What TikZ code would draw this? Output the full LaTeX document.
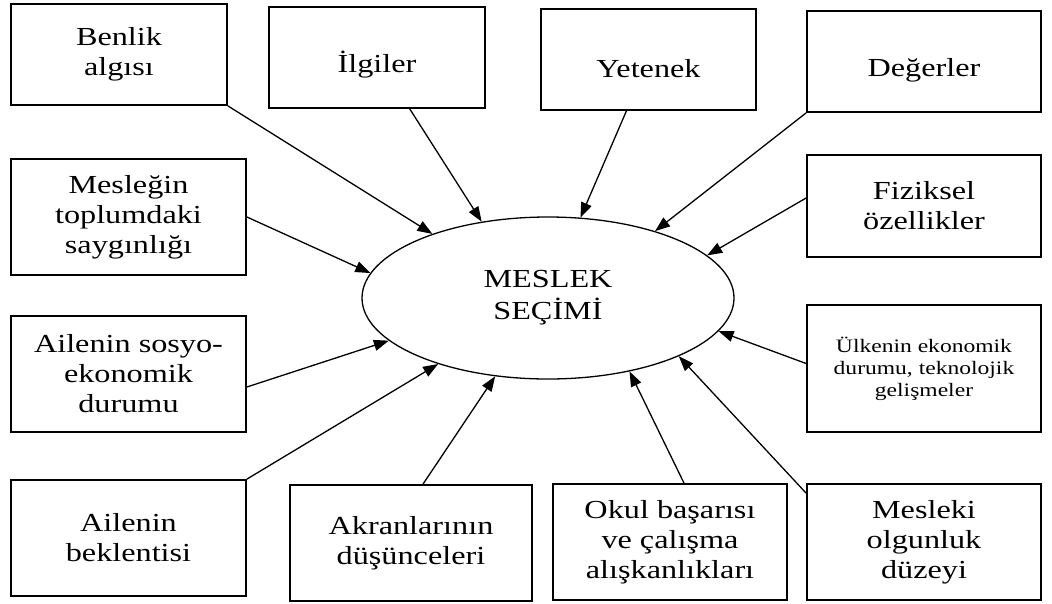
\documentclass[tikz,border=0pt]{standalone}
\usepackage{fontspec}
\setmainfont{Liberation Serif}[FakeStretch=1.24]
\usepackage{tikz}
\usetikzlibrary{shapes.geometric,arrows.meta,positioning}

\begin{document}
\begin{tikzpicture}[x=1pt, y=-1pt, >={Triangle[length=15pt,width=11pt]},
  factor/.style={draw,rectangle,line width=1.8pt,align=center,inner sep=2pt,
    font=\fontsize{26}{30}\selectfont},
  topfactor/.style={factor,minimum height=101pt,execute at begin node=\rule{0pt}{36pt}},
  link/.style={->,line width=1.3pt}]
  \useasboundingbox (0,0) rectangle (1052,603);
  % Choice in the middle
  \node[draw,ellipse,line width=1.3pt,minimum width=372pt,minimum height=162pt,inner sep=0pt,
    align=center,font=\fontsize{26}{32}\selectfont] (secim) at (548,298) {MESLEK\\SEÇİMİ};
  % Factors, top row
  \node[topfactor,minimum width=216pt] (benlik) at (119,54.5) {Benlik\\algısı};
  \node[topfactor,minimum width=216pt] (ilgi) at (377,57.5) {İlgiler};
  \node[topfactor,minimum width=215pt] (yetenek) at (648.5,59.5) {Yetenek};
  \node[topfactor,minimum width=234pt] (deger) at (924,61.5) {Değerler};
  % Factors, left and right
  \node[factor,minimum width=235pt,minimum height=116pt] (meslegin) at (128.5,217) {Mesleğin\\toplumdaki\\saygınlığı};
  \node[factor,minimum width=235pt,minimum height=116pt] (sosyo) at (128.5,374) {Ailenin sosyo-\\ekonomik\\durumu};
  \node[factor,minimum width=234pt,minimum height=102pt] (fiziksel) at (924,206) {Fiziksel\\özellikler};
  \node[factor,minimum width=234pt,minimum height=127pt,font=\fontsize{19}{22}\selectfont] (ulke) at (924,368.5)
    {Ülkenin ekonomik\\durumu, teknolojik\\gelişmeler};
  % Factors, bottom row
  \node[factor,minimum width=235pt,minimum height=116pt] (beklenti) at (128.5,538) {Ailenin\\beklentisi};
  \node[factor,minimum width=242pt,minimum height=116pt] (akran) at (411,543) {Akranlarının\\düşünceleri};
  \node[factor,minimum width=234pt,minimum height=116pt] (okul) at (670,542) {Okul başarısı\\ve çalışma\\alışkanlıkları};
  \node[factor,minimum width=234pt,minimum height=116pt] (mesleki) at (924,542) {Mesleki\\olgunluk\\düzeyi};

  \draw[link] (benlik.south east) -- (secim.151);
  \draw[link] (ilgi) -- (secim.131);
  \draw[link] (yetenek) -- (secim.68);
  \draw[link] (deger.south west) -- (secim.32);
  \draw[link] ([yshift=8pt]fiziksel.west) -- (secim.15);
  \draw[link] (meslegin.east) -- (secim.172);
  \draw[link] ([yshift=-13pt]sosyo.east) -- (secim.195);
  \draw[link] (beklenti.north east) -- (secim.211);
  \draw[link] ([xshift=12pt]akran.north) -- (secim.236);
  \draw[link] ([xshift=14pt]okul.north) -- (secim.318);
  \draw[link] ([yshift=-10pt]mesleki.north west) -- (secim.336);
  \draw[link] ([yshift=5pt]ulke.west) -- (secim.349);
\end{tikzpicture}
\end{document}
